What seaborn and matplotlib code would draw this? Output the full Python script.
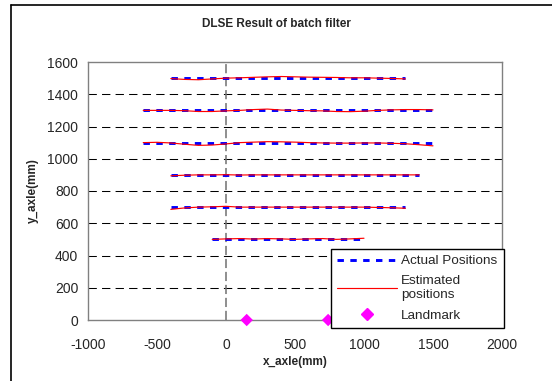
import numpy as np
import pandas as pd
import matplotlib
matplotlib.use("Agg")
import matplotlib.pyplot as plt
from matplotlib.lines import Line2D
import seaborn as sns

sns.set_style("white")
plt.rcParams['font.family'] = ['Liberation Sans', 'DejaVu Sans']

# ---- data ----
track_1500_x = [-400, -300, -200, -100, 0, 100, 200, 300, 400, 500, 600, 700, 800, 900, 1000, 1100, 1200, 1300]
track_1500_est = [1497, 1492, 1490, 1495, 1500, 1502, 1505, 1508, 1510, 1508, 1506, 1505, 1504, 1502, 1502, 1500, 1498, 1495]

track_1300_x = [-600, -500, -400, -300, -200, -100, 0, 100, 200, 300, 400, 500, 600, 700, 800, 900, 1000, 1100, 1200, 1300, 1400, 1500]
track_1300_est = [1300, 1300, 1300, 1298, 1293, 1293, 1297, 1300, 1305, 1308, 1302, 1300, 1298, 1297, 1293, 1292, 1295, 1300, 1303, 1305, 1305, 1303]

track_1100_x = [-600, -500, -400, -300, -200, -100, 0, 100, 200, 300, 400, 500, 600, 700, 800, 900, 1000, 1100, 1200, 1300, 1400, 1500]
track_1100_est = [1100, 1102, 1098, 1090, 1083, 1085, 1092, 1100, 1103, 1106, 1105, 1103, 1100, 1098, 1097, 1097, 1098, 1098, 1096, 1093, 1087, 1080]

track_900_x = [-400, -300, -200, -100, 0, 100, 200, 300, 400, 500, 600, 700, 800, 900, 1000, 1100, 1200, 1300, 1400]
track_900_est = [894, 898, 900, 900, 901, 899, 900, 900, 900, 900, 900, 900, 900, 900, 900, 900, 900, 900, 900]

track_700_x = [-400, -300, -200, -100, 0, 100, 200, 300, 400, 500, 600, 700, 800, 900, 1000, 1100, 1200, 1300]
track_700_est = [686, 695, 700, 702, 705, 700, 700, 700, 700, 700, 700, 700, 700, 700, 700, 698, 696, 693]

track_500_x = [-100, 0, 100, 200, 300, 400, 500, 600, 700, 800, 900, 1000]
track_500_est = [500, 503, 505, 502, 505, 503, 500, 503, 505, 500, 503, 507]

track_levels = [1500, 1300, 1100, 900, 700, 500]
track_xs = [track_1500_x, track_1300_x, track_1100_x, track_900_x, track_700_x, track_500_x]
track_ests = [track_1500_est, track_1300_est, track_1100_est, track_900_est, track_700_est, track_500_est]

landmark_x = [150, 740]
landmark_y = [0, 0]

x_ticks = [-1000, -500, 0, 500, 1000, 1500, 2000]
y_ticks = [0, 200, 400, 600, 800, 1000, 1200, 1400, 1600]

# ---- figure ----
fig = plt.figure(figsize=(5.52, 3.81), dpi=100)
ax = fig.add_axes([88/552, 1-320/381, (502-88)/552, (320-62)/381])

# grid lines
for yv in y_ticks[1:-1]:
    ax.axhline(yv, color='black', lw=0.75, dashes=(8, 5), zorder=1)
ax.axvline(0, color='#707070', lw=1.1, dashes=(6, 2.5), zorder=1)

for lvl, xs, est in zip(track_levels, track_xs, track_ests):
    df = pd.DataFrame({'x': xs, 'actual': [lvl]*len(xs), 'est': est})
    sns.lineplot(data=df, x='x', y='actual', ax=ax, color='#0000FF', lw=2.1,
                 sort=False, estimator=None, zorder=3)
    ax.lines[-1].set_dashes((2.2, 2.2))
    sns.lineplot(data=df, x='x', y='est', ax=ax, color='#FF0000', lw=0.85,
                 sort=False, estimator=None, zorder=4)

sns.scatterplot(x=landmark_x, y=landmark_y, ax=ax, marker='D', color='#FF00FF',
                s=40, edgecolor='none', zorder=5, clip_on=False)

ax.set_xlim(-1000, 2000)
ax.set_ylim(0, 1600)
ax.set_xticks(x_ticks)
ax.set_yticks(y_ticks)
ax.set_xticklabels([str(v) for v in x_ticks], fontsize=10)
ax.set_yticklabels([str(v) for v in y_ticks], fontsize=10)
ax.tick_params(axis='both', length=3, width=0.8, color='#808080')
ax.tick_params(axis='x', pad=10)
ax.tick_params(axis='y', pad=4)
for s in ax.spines.values():
    s.set_color('#808080')
    s.set_linewidth(1.0)

ax.set_xlabel('x_axle(mm)', fontsize=8.5, fontweight='bold', labelpad=3)
ax.set_ylabel('y_axle(mm)', fontsize=8.5, fontweight='bold', labelpad=6)
fig.text(276/552, 1-24/381, 'DLSE Result of batch filter', fontsize=8.5,
         fontweight='bold', ha='center', va='center')

handles = [Line2D([], [], color='#0000FF', lw=2.1, dashes=(2.2, 2.2)),
           Line2D([], [], color='#FF0000', lw=0.85),
           Line2D([], [], color='#FF00FF', marker='D', ls='none', markersize=6.5)]
labels = ['Actual Positions', 'Estimated\npositions', 'Landmark']
leg = ax.legend(handles, labels, loc='lower right', bbox_to_anchor=(1.004, -0.03),
                fontsize=9.7, frameon=True, fancybox=False, edgecolor='black',
                framealpha=1, borderpad=0.45, labelspacing=0.6, handlelength=4.4,
                handletextpad=0.35, borderaxespad=0)
leg.get_frame().set_linewidth(1.0)
leg.set_zorder(10)

# outer figure border (left and top)
fig.add_artist(Line2D([11/552, 11/552], [0, 1-5/381], color='black', lw=1.2, transform=fig.transFigure))
fig.add_artist(Line2D([11/552, 1], [1-5/381, 1-5/381], color='black', lw=1.2, transform=fig.transFigure))

fig.savefig('out.png', dpi=100)
